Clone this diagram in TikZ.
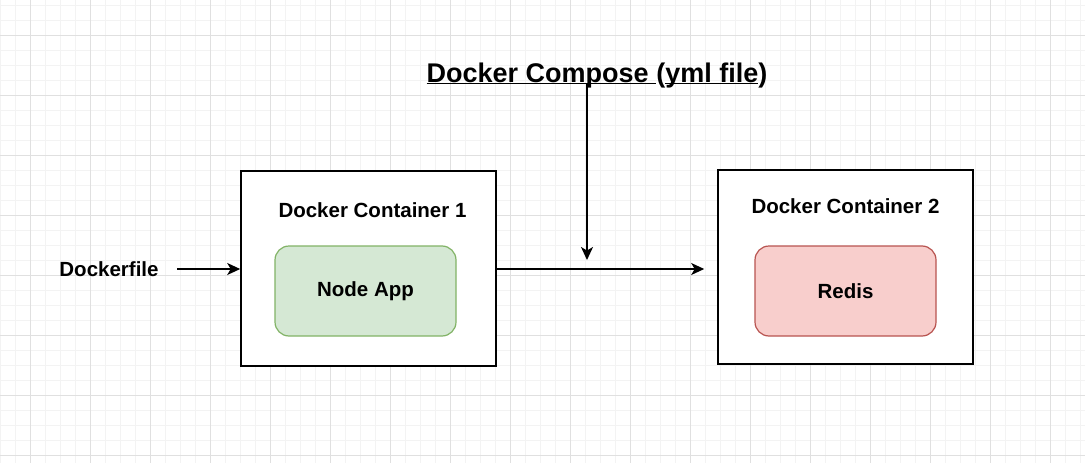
\documentclass[tikz,border=0pt]{standalone}
\usepackage{fontspec}
\setmainfont{Liberation Sans}
\usetikzlibrary{positioning, arrows.meta}
\definecolor{appfill}{HTML}{D5E8D4}
\definecolor{appline}{HTML}{82B366}
\definecolor{redisfill}{HTML}{F8CECC}
\definecolor{redisline}{HTML}{B85450}
\definecolor{minorgrid}{HTML}{F3F3F3}
\definecolor{majorgrid}{HTML}{E0E0E0}
\newsavebox{\ulbox}
\newcommand{\ulpart}[1]{\sbox{\ulbox}{#1}\rlap{\rule[-2.2pt]{\wd\ulbox}{1.6pt}}\usebox{\ulbox}}

\begin{document}
\begin{tikzpicture}[
    x=1pt, y=-1pt,
    >={Stealth[length=13pt,width=12pt,inset=3.5pt]},
    minor line/.style={minorgrid,line width=1pt},
    major line/.style={majorgrid,line width=1pt},
    container/.style={draw,line width=1.6pt,fill=white,minimum width=255pt,inner sep=0pt},
    service/.style={draw,line width=1.2pt,rounded corners=14pt,minimum width=181pt,minimum height=90pt,font=\fontsize{20.5}{24}\selectfont\bfseries},
    caption/.style={inner sep=0pt,font=\fontsize{20.5}{24}\selectfont\bfseries},
    link/.style={->,line width=1.6pt}
    ]
    \useasboundingbox (0,0) rectangle (1085,463);
    % grid
    \fill[white] (0,0) rectangle (1085,463);
    \foreach \x in {0,15,...,1080} {
        \draw[minor line] (\x,0) -- (\x,463);
    }
    \foreach \y in {5,20,...,455} {
        \draw[minor line] (0,\y) -- (1085,\y);
    }
    \foreach \x in {30,90,...,1050} {
        \draw[major line] (\x,0) -- (\x,463);
    }
    \foreach \y in {35,95,...,455} {
        \draw[major line] (0,\y) -- (1085,\y);
    }
    % containers
    \node[container,minimum height=195pt] (cont1) at (368.5,268.5) {};
    \node[container,minimum height=194pt] (cont2) at (845.5,267) {};
    \node[caption,below=32pt of cont1.north,xshift=4pt] (cont1 title) {Docker Container 1};
    \node[caption,below=29pt of cont2.north] (cont2 title) {Docker Container 2};
    % services
    \node[service,fill=appfill,draw=appline] (app) at (365.5,291) {Node App};
    \node[service,fill=redisfill,draw=redisline] (redis) at (845.5,291) {Redis};
    % compose file
    \node[caption,font=\fontsize{27}{32}\selectfont\bfseries,anchor=base] (compose) at (597,82) {\ulpart{Docker Compose }(\ulpart{yml file})};
    % dockerfile
    \node[caption,minimum width=136pt] (dockerfile) at (109,269) {Dockerfile};
    % edges
    \coordinate (merge) at (587,260);
    \draw[link] (dockerfile.east) -- (dockerfile.east -| cont1.west);
    \draw[link,shorten >=13pt] (cont1.east |- dockerfile) -- (cont2.west |- dockerfile);
    \draw[link] ([yshift=-2pt]compose.base -| merge) -- (merge);
\end{tikzpicture}
\end{document}
